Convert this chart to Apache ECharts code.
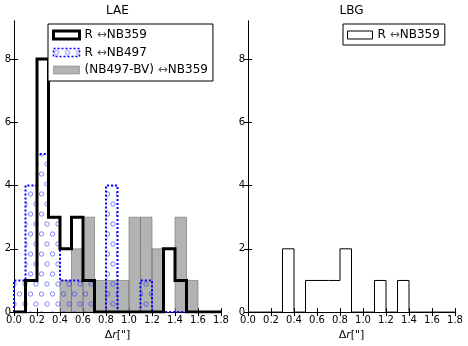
<!DOCTYPE html>
<html>
<head>
<meta charset="utf-8">
<script src="https://cdn.jsdelivr.net/npm/echarts@6/dist/echarts.min.js"></script>
<style>
  html, body { margin: 0; padding: 0; background: #fff; }
  #main { width: 468px; height: 346px; }
</style>
</head>
<body>
<div id="main"></div>
<script>
// bin edges of the histograms (arcsec)
var binEdges = [0.0, 0.1, 0.2, 0.3, 0.4, 0.5, 0.6, 0.7, 0.8, 0.9,
                1.0, 1.1, 1.2, 1.3, 1.4, 1.5, 1.6, 1.7, 1.8];
// counts per bin
var laeR359 = [0, 1, 8, 3, 2, 3, 1, 0, 0, 0, 0, 0, 0, 2, 1, 0, 0, 0];
var laeR497 = [1, 4, 5, 3, 1, 1, 1, 0, 4, 0, 0, 1, 0, 0, 0, 0, 0, 0];
var laeBV   = [0, 0, 0, 0, 1, 2, 3, 1, 1, 1, 3, 3, 2, 0, 3, 1, 0, 0];
var lbgR359 = [0, 0, 0, 2, 0, 1, 1, 1, 2, 0, 0, 1, 0, 1, 0, 0, 0, 0];
var xTicks = [0.0, 0.2, 0.4, 0.6, 0.8, 1.0, 1.2, 1.4, 1.6, 1.8];
var yTicks = [0, 2, 4, 6, 8];

var nameR359 = 'R ↔NB359';
var nameR497 = 'R ↔NB497';
var nameBV = '(NB497-BV) ↔NB359';

var FONT = 'DejaVu Sans';

// circle hatch ('o') for the R-NB497 histogram
var hatch = document.createElement('canvas');
hatch.width = 11;
hatch.height = 20;
var hc = hatch.getContext('2d');
hc.strokeStyle = 'rgba(40,40,255,0.55)';
hc.lineWidth = 1;
hc.beginPath(); hc.arc(3, 4, 2.2, 0, Math.PI * 2); hc.stroke();
hc.beginPath(); hc.arc(8.5, 14, 2.2, 0, Math.PI * 2); hc.stroke();
var hatchFill = { image: hatch, repeat: 'repeat' };

// outline of a step histogram
function stepPoints(counts) {
  var pts = [[binEdges[0], 0]];
  for (var i = 0; i < counts.length; i++) pts.push([binEdges[i], counts[i]]);
  pts.push([binEdges[counts.length], counts[counts.length - 1]]);
  pts.push([binEdges[counts.length], 0]);
  return pts;
}
// one [left, right, count] item per non-empty bin
function barItems(counts) {
  var out = [];
  for (var i = 0; i < counts.length; i++) {
    if (counts[i] > 0) out.push([binEdges[i], binEdges[i + 1], counts[i]]);
  }
  return out;
}
function rectRenderer(style) {
  return function (params, api) {
    var p0 = api.coord([api.value(0), 0]);
    var p1 = api.coord([api.value(1), api.value(2)]);
    return {
      type: 'rect',
      shape: { x: p0[0], y: p1[1], width: p1[0] - p0[0], height: p0[1] - p1[1] },
      style: style
    };
  };
}

function bottomAxis(gridIndex) {
  return {
    gridIndex: gridIndex, type: 'value', position: 'bottom',
    min: 0, max: 1.8, interval: 0.2,
    name: 'Δ{i|r}["]', nameLocation: 'middle', nameGap: 15,
    nameTextStyle: { fontFamily: FONT, fontSize: 11, color: '#000',
      rich: { i: { fontFamily: FONT, fontSize: 11, fontStyle: 'italic', color: '#000' } } },
    axisLine: { lineStyle: { color: '#000', width: 1 } },
    axisTick: { inside: true, length: 4, lineStyle: { color: '#000' } },
    axisLabel: { fontFamily: FONT, fontSize: 10, color: '#000', margin: 3,
      customValues: xTicks, formatter: function (v) { return v.toFixed(1); } },
    splitLine: { show: false }
  };
}
function topAxis(gridIndex, title) {
  return {
    gridIndex: gridIndex, type: 'value', position: 'top',
    min: 0, max: 1.8, interval: 0.2,
    name: title, nameLocation: 'middle', nameGap: 4,
    nameTextStyle: { fontFamily: FONT, fontSize: 12, color: '#000' },
    axisLine: { lineStyle: { color: '#000', width: 1 } },
    axisTick: { inside: true, length: 4, lineStyle: { color: '#000' } },
    axisLabel: { show: false },
    splitLine: { show: false }
  };
}
function leftAxis(gridIndex) {
  return {
    gridIndex: gridIndex, type: 'value', position: 'left',
    min: 0, max: 9.2, interval: 2,
    axisLine: { show: true, lineStyle: { color: '#000', width: 1 } },
    axisTick: { show: true, inside: true, length: 4, customValues: yTicks, lineStyle: { color: '#000' } },
    axisLabel: { fontFamily: FONT, fontSize: 10, color: '#000', margin: 3, customValues: yTicks },
    splitLine: { show: false }
  };
}
function rightAxis(gridIndex) {
  return {
    gridIndex: gridIndex, type: 'value', position: 'right',
    min: 0, max: 9.2, interval: 2,
    axisLine: { show: true, lineStyle: { color: '#000', width: 1 } },
    axisTick: { show: true, inside: true, length: 4, customValues: yTicks, lineStyle: { color: '#000' } },
    axisLabel: { show: false },
    splitLine: { show: false }
  };
}

var legendText = {
  fontFamily: FONT, fontSize: 12, color: '#000', lineHeight: 14,
  rich: { a: { fontFamily: FONT, fontSize: 12, color: '#555' } }
};
function legendFormatter(name) { return name.replace('↔', '{a|↔}'); }

var myChart = echarts.init(document.getElementById('main'));
var option = {
  animation: false,
  backgroundColor: '#fff',
  grid: [
    { left: 14, top: 19, width: 207, height: 294 },
    { left: 248, top: 19, width: 207, height: 294 }
  ],
  xAxis: [bottomAxis(0), topAxis(0, 'LAE'), bottomAxis(1), topAxis(1, 'LBG')],
  yAxis: [leftAxis(0), rightAxis(0), leftAxis(1), rightAxis(1)],
  legend: [
    {
      left: 48, top: 24, orient: 'vertical',
      itemWidth: 26, itemHeight: 8, itemGap: 3.5, itemTextGap: 9,
      padding: [4, 5, 4, 4],
      borderColor: '#000', borderWidth: 1, borderRadius: 0, backgroundColor: '#fff',
      icon: 'rect', selectedMode: false,
      textStyle: legendText, formatter: legendFormatter,
      data: [
        { name: nameR359, itemStyle: { color: '#fff', borderColor: '#000', borderWidth: 3 } },
        { name: nameR497, itemStyle: { color: hatchFill, borderColor: '#0000ff', borderWidth: 1.5, borderType: [2, 2] } },
        { name: nameBV, itemStyle: { color: 'rgba(128,128,128,0.6)', borderColor: 'rgba(128,128,128,0.6)', borderWidth: 1 } }
      ]
    },
    {
      left: 343, top: 24, orient: 'vertical',
      itemWidth: 25, itemHeight: 8, itemTextGap: 10,
      padding: [4, 5, 3, 4],
      borderColor: '#000', borderWidth: 1, borderRadius: 0, backgroundColor: '#fff',
      icon: 'rect', selectedMode: false,
      textStyle: legendText, formatter: legendFormatter,
      data: [
        { name: nameR359, itemStyle: { color: '#fff', borderColor: '#000', borderWidth: 1 } }
      ]
    }
  ],
  series: [
    {
      name: nameBV, type: 'custom', xAxisIndex: 0, yAxisIndex: 0, clip: true,
      renderItem: rectRenderer({ fill: 'rgba(128,128,128,0.6)', stroke: 'rgba(110,110,110,0.6)', lineWidth: 1 }),
      encode: { x: [0, 1], y: 2 },
      data: barItems(laeBV)
    },
    {
      name: nameR497, type: 'custom', xAxisIndex: 0, yAxisIndex: 0, clip: true,
      renderItem: rectRenderer({ fill: hatchFill }),
      encode: { x: [0, 1], y: 2 },
      data: barItems(laeR497)
    },
    {
      name: nameR497, type: 'line', xAxisIndex: 0, yAxisIndex: 0,
      step: 'end', symbol: 'none', color: '#0000ff',
      lineStyle: { color: '#0000ff', width: 2, type: [2, 2], join: 'miter' },
      data: stepPoints(laeR497)
    },
    {
      name: nameR359, type: 'line', xAxisIndex: 0, yAxisIndex: 0,
      step: 'end', symbol: 'none', color: '#000',
      lineStyle: { color: '#000', width: 3, join: 'miter' },
      data: stepPoints(laeR359)
    },
    {
      name: nameR359, type: 'line', xAxisIndex: 2, yAxisIndex: 2,
      step: 'end', symbol: 'none', color: '#000',
      lineStyle: { color: '#000', width: 1, join: 'miter' },
      data: stepPoints(lbgR359)
    }
  ]
};
myChart.setOption(option);
</script>
</body>
</html>
